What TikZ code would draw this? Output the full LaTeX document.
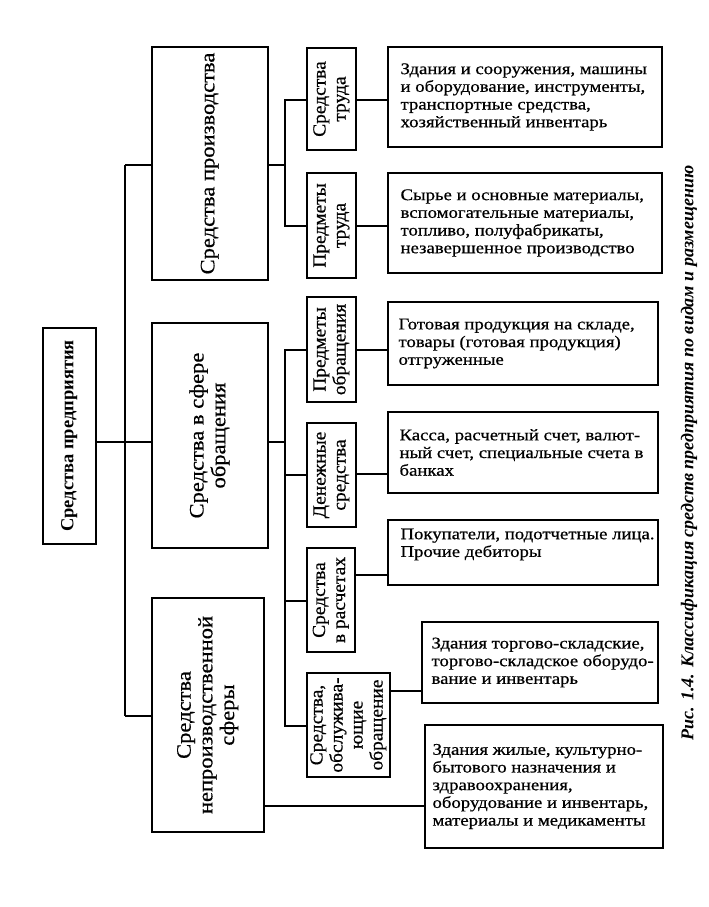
\documentclass[tikz,border=0pt]{standalone}
\usepackage{fontspec}
\setmainfont{Liberation Serif}
\newfontfamily\fdesc[FakeStretch=1.15,FakeBold=0.6]{Liberation Serif}
\newfontfamily\fone[FakeStretch=1.1,FakeBold=0.6]{Liberation Serif}
\newfontfamily\ftwo[FakeStretch=1.05,FakeBold=0.6]{Liberation Serif}
\newcommand\rtx[1]{\rotatebox{90}{\begin{tabular}{@{}c@{}}#1\end{tabular}}}
\tikzset{
  box/.style={draw, line width=1.3pt, rectangle, inner sep=0pt, anchor=center},
  lone/.style={box, font=\fone\fontsize{20.5}{21.7}\selectfont},
  ltwo/.style={box, font=\ftwo\fontsize{18.5}{20}\selectfont},
  dtext/.style={align=left, inner sep=0pt, font=\fdesc\fontsize{16.3}{17.7}\selectfont},
  conn/.style={line width=1.1pt},
}
\begin{document}
\begin{tikzpicture}[x=1pt,y=-1pt]
\useasboundingbox (0,0) rectangle (709,907);
% root
\node[box, minimum width=53pt, minimum height=216pt, font=\bfseries\fontsize{18.5}{20}\selectfont] (root) at (69.5,436) {\rtx{Средства предприятия}};
% level 1
\node[lone, minimum width=116pt, minimum height=233pt] (sp) at (210,163.5) {\rtx{Средства производства}};
\node[lone, minimum width=116pt, minimum height=225pt] (so) at (210,435.5) {\rtx{Средства в сфере\\обращения}};
\node[lone, minimum width=112pt, minimum height=234pt] (sn) at (208,715) {\rtx{Средства\\непроизводственной\\сферы}};
% level 2
\node[ltwo, minimum width=49pt, minimum height=102pt] (st) at (331.5,99) {\rtx{Средства\\труда}};
\node[ltwo, minimum width=49pt, minimum height=105pt] (pt) at (331.5,225.5) {\rtx{Предметы\\труда}};
\node[ltwo, minimum width=49pt, minimum height=105pt] (po) at (331.5,349.5) {\rtx{Предметы\\обращения}};
\node[ltwo, minimum width=49pt, minimum height=104pt] (ds) at (331.5,475) {\rtx{Денежные\\средства}};
\node[ltwo, minimum width=48pt, minimum height=104pt] (sr) at (331,600) {\rtx{Средства\\в расчетах}};
\node[ltwo, minimum width=83pt, minimum height=104pt] (sb) at (348.5,725) {\rtx{Средства,\\обслужива-\\ющие\\обращение}};
% description boxes
\node[box, minimum width=274pt, minimum height=100pt] (d1) at (525,97) {};
\node[box, minimum width=274pt, minimum height=100pt] (d2) at (525,223) {};
\node[box, minimum width=270pt, minimum height=83pt] (d3) at (523,343.5) {};
\node[box, minimum width=270pt, minimum height=81pt] (d4) at (523,452.5) {};
\node[box, minimum width=270pt, minimum height=65pt] (d5) at (523,552.5) {};
\node[box, minimum width=236pt, minimum height=81pt] (d6) at (540,662.5) {};
\node[box, minimum width=238pt, minimum height=123pt] (d7) at (544,786.5) {};
% description texts
\node[dtext, anchor=west] (d1t) at ([xshift=13pt]d1.west) {Здания и сооружения, машины\\и оборудование, инструменты,\\транспортные средства,\\хозяйственный инвентарь};
\node[dtext, anchor=west] (d2t) at ([xshift=13pt]d2.west) {Сырье и основные материалы,\\вспомогательные материалы,\\топливо, полуфабрикаты,\\незавершенное производство};
\node[dtext, anchor=west] (d3t) at ([xshift=11pt]d3.west) {Готовая продукция на складе,\\товары (готовая продукция)\\отгруженные};
\node[dtext, anchor=west] (d4t) at ([xshift=12pt]d4.west) {Касса, расчетный счет, валют-\\ный счет, специальные счета в\\банках};
\node[dtext, anchor=north west] (d5t) at ([xshift=13pt,yshift=-9pt]d5.north west) {Покупатели, подотчетные лица.\\Прочие дебиторы};
\node[dtext, anchor=west] (d6t) at ([xshift=10pt]d6.west) {Здания торгово-складские,\\торгово-складское оборудо-\\вание и инвентарь};
\node[dtext, anchor=west] (d7t) at ([xshift=8pt]d7.west) {Здания жилые, культурно-\\бытового назначения и\\здравоохранения,\\оборудование и инвентарь,\\материалы и медикаменты};
% caption
\node[rotate=90, font=\bfseries\itshape\fontsize{18}{21}\selectfont] (cap) at (689,453) {Рис. 1.4. Классификация средств предприятия по видам и размещению};
% junction coordinates
\coordinate (t1) at (125,165);
\coordinate (t2) at (125,442);
\coordinate (t3) at (125,716);
\coordinate (a0) at (285,165);
\coordinate (a1) at (285,100);
\coordinate (a2) at (285,226);
\coordinate (b0) at (285,442);
\coordinate (b1) at (285,350);
\coordinate (b2) at (285,475);
\coordinate (b3) at (285,601);
\coordinate (b4) at (285,726);
\coordinate (r4) at (0,474);
\coordinate (r5) at (0,575);
\coordinate (r6) at (0,691);
\coordinate (r7) at (0,806);
% trunk
\draw[conn] (root.east |- t2) -- (t2);
\draw[conn] (t1) -- (t3);
\draw[conn] (t1) -- (sp.west |- t1);
\draw[conn] (t2) -- (so.west |- t2);
\draw[conn] (t3) -- (sn.west |- t3);
% group 1
\draw[conn] (sp.east |- a0) -- (a0);
\draw[conn] (st.west |- a1) -- (a1) -- (a2) -- (pt.west |- a2);
\draw[conn] (st.east |- a1) -- (d1.west |- a1);
\draw[conn] (pt.east |- a2) -- (d2.west |- a2);
% group 2
\draw[conn] (so.east |- b0) -- (b0);
\draw[conn] (po.west |- b1) -- (b1) -- (b4) -- (sb.west |- b4);
\draw[conn] (b2) -- (ds.west |- b2);
\draw[conn] (b3) -- (sr.west |- b3);
\draw[conn] (po.east |- b1) -- (d3.west |- b1);
\draw[conn] (ds.east |- r4) -- (d4.west |- r4);
\draw[conn] (sr.east |- r5) -- (d5.west |- r5);
\draw[conn] (sb.east |- r6) -- (d6.west |- r6);
\draw[conn] (sn.east |- r7) -- (d7.west |- r7);
\end{tikzpicture}
\end{document}
